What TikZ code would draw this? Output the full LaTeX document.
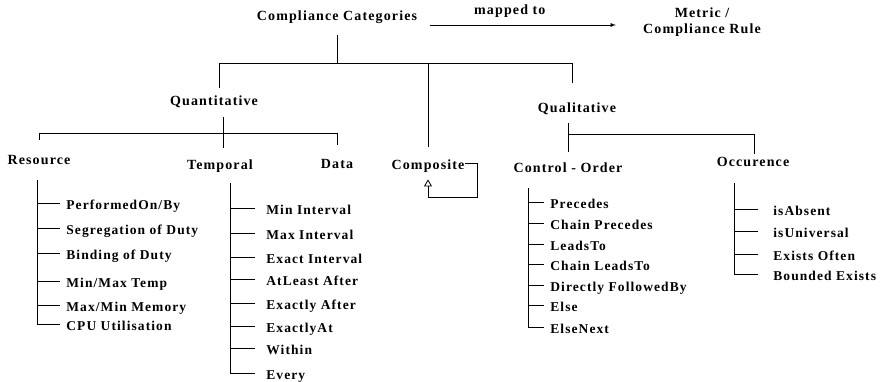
\documentclass[tikz,border=0pt]{standalone}
\usepackage{fontspec}
\setmainfont[LetterSpace=8]{Liberation Serif}
\usetikzlibrary{arrows.meta}
\tikzset{>=latex}
\tikzset{
  cat/.style={font=\bfseries\fontsize{14}{15.5}\selectfont, inner sep=0pt,
    text height=10pt, text depth=3pt, anchor=base},
  leaf/.style={font=\bfseries\fontsize{13.5}{15}\selectfont, inner sep=0pt,
    text height=12pt, text depth=0pt, anchor=west},
}

\begin{document}
\begin{tikzpicture}[x=1pt, y=-1pt, line width=0.8pt]
  \useasboundingbox (0,0) rectangle (880,382);
  \node[cat] (cc) at (337,21) {Compliance Categories};
  \node[font=\bfseries\fontsize{14}{15.5}\selectfont, inner sep=0pt, align=center] (rule) at (702,22) {Metric /\\Compliance Rule};
  \draw[->, shorten <=13pt, shorten >=27pt] (cc.east |- 0,25) -- (rule.west |- 0,25)
    node[cat, pos=.41, above=7pt] (map) {mapped to};

  \node[cat] (quant) at (214,106) {Quantitative};
  \node[cat] (qual) at (577,113) {Qualitative};
  \node[cat] (comp) at (428,170) {Composite};
  \node[cat] (res) at (39,165) {Resource};
  \node[cat] (temp) at (220,170) {Temporal};
  \node[cat] (data) at (337,169) {Data};
  \node[cat] (ctrl) at (568,173) {Control - Order};
  \node[cat] (occ) at (753,167) {Occurence};

  \coordinate (hub) at (337,63);
  \coordinate (tl) at (219,63);
  \coordinate (tr) at (572,63);
  \coordinate (qa) at (223,133);
  \coordinate (qb) at (754,134);

  \draw[shorten <=11pt] (cc.south) -- (hub);
  \draw (tl) -- (tr);
  \draw[shorten >=8pt] (tl) -- (tl |- quant.north);
  \draw[shorten >=20pt] (tr) -- (tr |- qual.north);
  \draw[shorten >=13pt] (hub -| comp) -- (comp.north);
  \draw[-{Triangle[open, length=7pt, width=8pt]}] ([yshift=3.5pt]comp.east) -- ++(13,0)
    |- ([yshift=-24pt]comp.south) -- ([yshift=-6pt]comp.south);

  \draw[shorten <=8pt, shorten >=12pt] (qa |- quant.south) -- (qa |- temp.north);
  \draw (res.north |- qa) -- (data.north |- qa);
  \draw[shorten >=15pt] (res.north |- qa) -- (res.north);
  \draw[shorten >=14pt] (data.north |- qa) -- (data.north);

  \draw[shorten <=7pt, shorten >=11pt] (ctrl.north |- qual.south) -- (ctrl.north);
  \draw (ctrl.north |- qb) -- (qb);
  \draw[shorten >=3pt] (qb) -- (qb |- occ.north);

  \coordinate (rs) at (37,180);
  \foreach \y/\t [count=\i] in {203/{PerformedOn/By}, 228/{Segregation of Duty},
      253/{Binding of Duty}, 281/{Min/Max Temp}, 305/{Max/Min Memory}, 324/{CPU Utilisation}} {
    \node[leaf] (res\i) at (66,\y) {\t};
    \draw (rs |- res\i.west) -- ++(23,0);
  }
  \draw (rs) -- (rs |- res6.west);

  \coordinate (ts) at (230,183);
  \foreach \y/\t [count=\i] in {208/{Min Interval}, 233/{Max Interval}, 257/{Exact Interval},
      279/{AtLeast After}, 303/{Exactly After}, 326/{ExactlyAt}, 348/{Within}, 373/{Every}} {
    \node[leaf] (tmp\i) at (266,\y) {\t};
    \draw (ts |- tmp\i.west) -- ++(25,0);
  }
  \draw (ts) -- (ts |- tmp8.west);

  \coordinate (cs) at (528,188);
  \foreach \y/\t [count=\i] in {202/{Precedes}, 223/{Chain Precedes}, 244/{LeadsTo},
      264/{Chain LeadsTo}, 285/{Directly FollowedBy}, 305/{Else}, 327/{ElseNext}} {
    \node[leaf] (ctl\i) at (550,\y) {\t};
    \draw (cs |- ctl\i.west) -- ++(16,0);
  }
  \draw (cs) -- (cs |- ctl7.west);

  \coordinate (os) at (734,183);
  \foreach \y/\t [count=\i] in {209/{isAbsent}, 231/{isUniversal}, 254/{Exists Often},
      274/{Bounded Exists}} {
    \node[leaf] (occ\i) at (773,\y) {\t};
    \draw (os |- occ\i.west) -- ++(24,0);
  }
  \draw (os) -- (os |- occ4.west);
\end{tikzpicture}
\end{document}
